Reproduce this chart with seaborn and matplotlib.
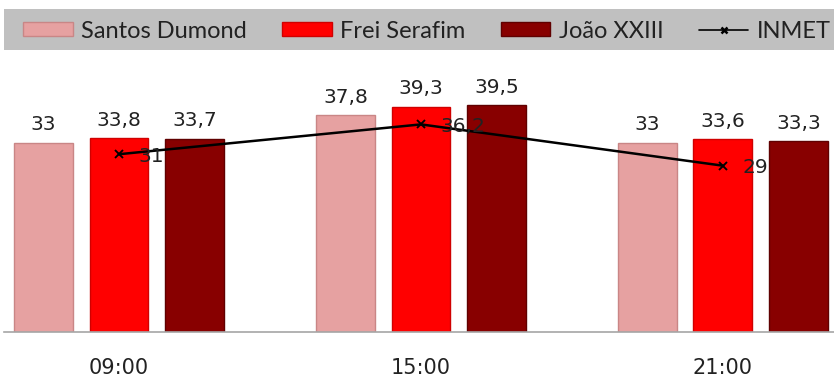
import matplotlib
matplotlib.use("Agg")
import matplotlib.pyplot as plt
from matplotlib.patches import Patch, Rectangle
from matplotlib.lines import Line2D
import pandas as pd
import seaborn as sns

# dados
horarios = ["09:00", "15:00", "21:00"]
estacoes = ["Santos Dumond", "Frei Serafim", "João XXIII"]
santos_dumond = [33, 37.8, 33]
frei_serafim = [33.8, 39.3, 33.6]
joao_xxiii = [33.7, 39.5, 33.3]
inmet = [31, 36.2, 29]

cores = ["#E6A1A1", "#FF0000", "#880000"]
bordas = ["#C98686", "#D00000", "#600000"]

df = pd.DataFrame({
    "Horario": horarios * 3,
    "Estacao": [e for e in estacoes for _ in horarios],
    "Temp": santos_dumond + frei_serafim + joao_xxiii,
})

sns.set_style("white")
plt.rcParams["font.family"] = ["DejaVu Sans"]
fonte_num = "DejaVu Sans"

fig = plt.figure(figsize=(8.34, 3.78), dpi=100)
ax = fig.add_axes([4 / 834, 1 - 332 / 378, 830 / 834, 277 / 378])

sns.barplot(data=df, x="Horario", y="Temp", hue="Estacao", order=horarios,
            hue_order=estacoes, palette=cores, width=0.75, gap=0.22,
            saturation=1, legend=False, ax=ax)

# bordas e rótulos das barras
for cont, borda in zip(ax.containers, bordas):
    for barra in cont:
        barra.set_edgecolor(borda)
        barra.set_linewidth(1.0)
    ax.bar_label(cont, labels=[f"{b.get_height():g}".replace(".", ",") for b in cont],
                 padding=6, fontsize=14.5, color="#222222", family=fonte_num)

# linha do INMET
sns.pointplot(x=horarios, y=inmet, color="black", markers="x", linewidth=1.8,
              markersize=6, ax=ax)
for i, v in enumerate(inmet):
    ax.annotate(f"{v:g}".replace(".", ","), (i, v), xytext=(14, -1.5),
                textcoords="offset points", ha="left", va="center",
                fontsize=14.5, color="#222222", family=fonte_num)

ax.set_xlim(-0.381, 2.368)
ax.set_ylim(0, 48.3)
ax.set_yticks([])
ax.set_xlabel("")
ax.set_ylabel("")
for lado in ["top", "left", "right"]:
    ax.spines[lado].set_visible(False)
ax.spines["bottom"].set_color("#A6A6A6")
ax.spines["bottom"].set_linewidth(1.2)
ax.tick_params(axis="x", length=0, pad=19)
for t in ax.get_xticklabels():
    t.set_fontsize(15)
    t.set_family(fonte_num)
    t.set_color("#222222")

# faixa da legenda
fig.patches.append(Rectangle((4 / 834, 1 - 50 / 378), 830 / 834, 41 / 378,
                             transform=fig.transFigure, facecolor="#C0C0C0",
                             edgecolor="none", zorder=0))
handles = [Patch(facecolor=c, edgecolor=b) for c, b in zip(cores, bordas)]
handles.append(Line2D([], [], color="black", marker="x", linewidth=1.2,
                      markersize=5, markeredgewidth=1.8))
fig.legend(handles, estacoes + ["INMET"], loc="center",
           bbox_to_anchor=(427 / 834, 1 - 31 / 378), ncol=4, frameon=False,
           prop={"family": ["Lato", "DejaVu Sans"], "size": 17},
           handlelength=2.1, handleheight=0.55, handletextpad=0.35,
           columnspacing=1.5, labelcolor="#222222", borderpad=0,
           borderaxespad=0)

fig.savefig("out.png", dpi=100)
